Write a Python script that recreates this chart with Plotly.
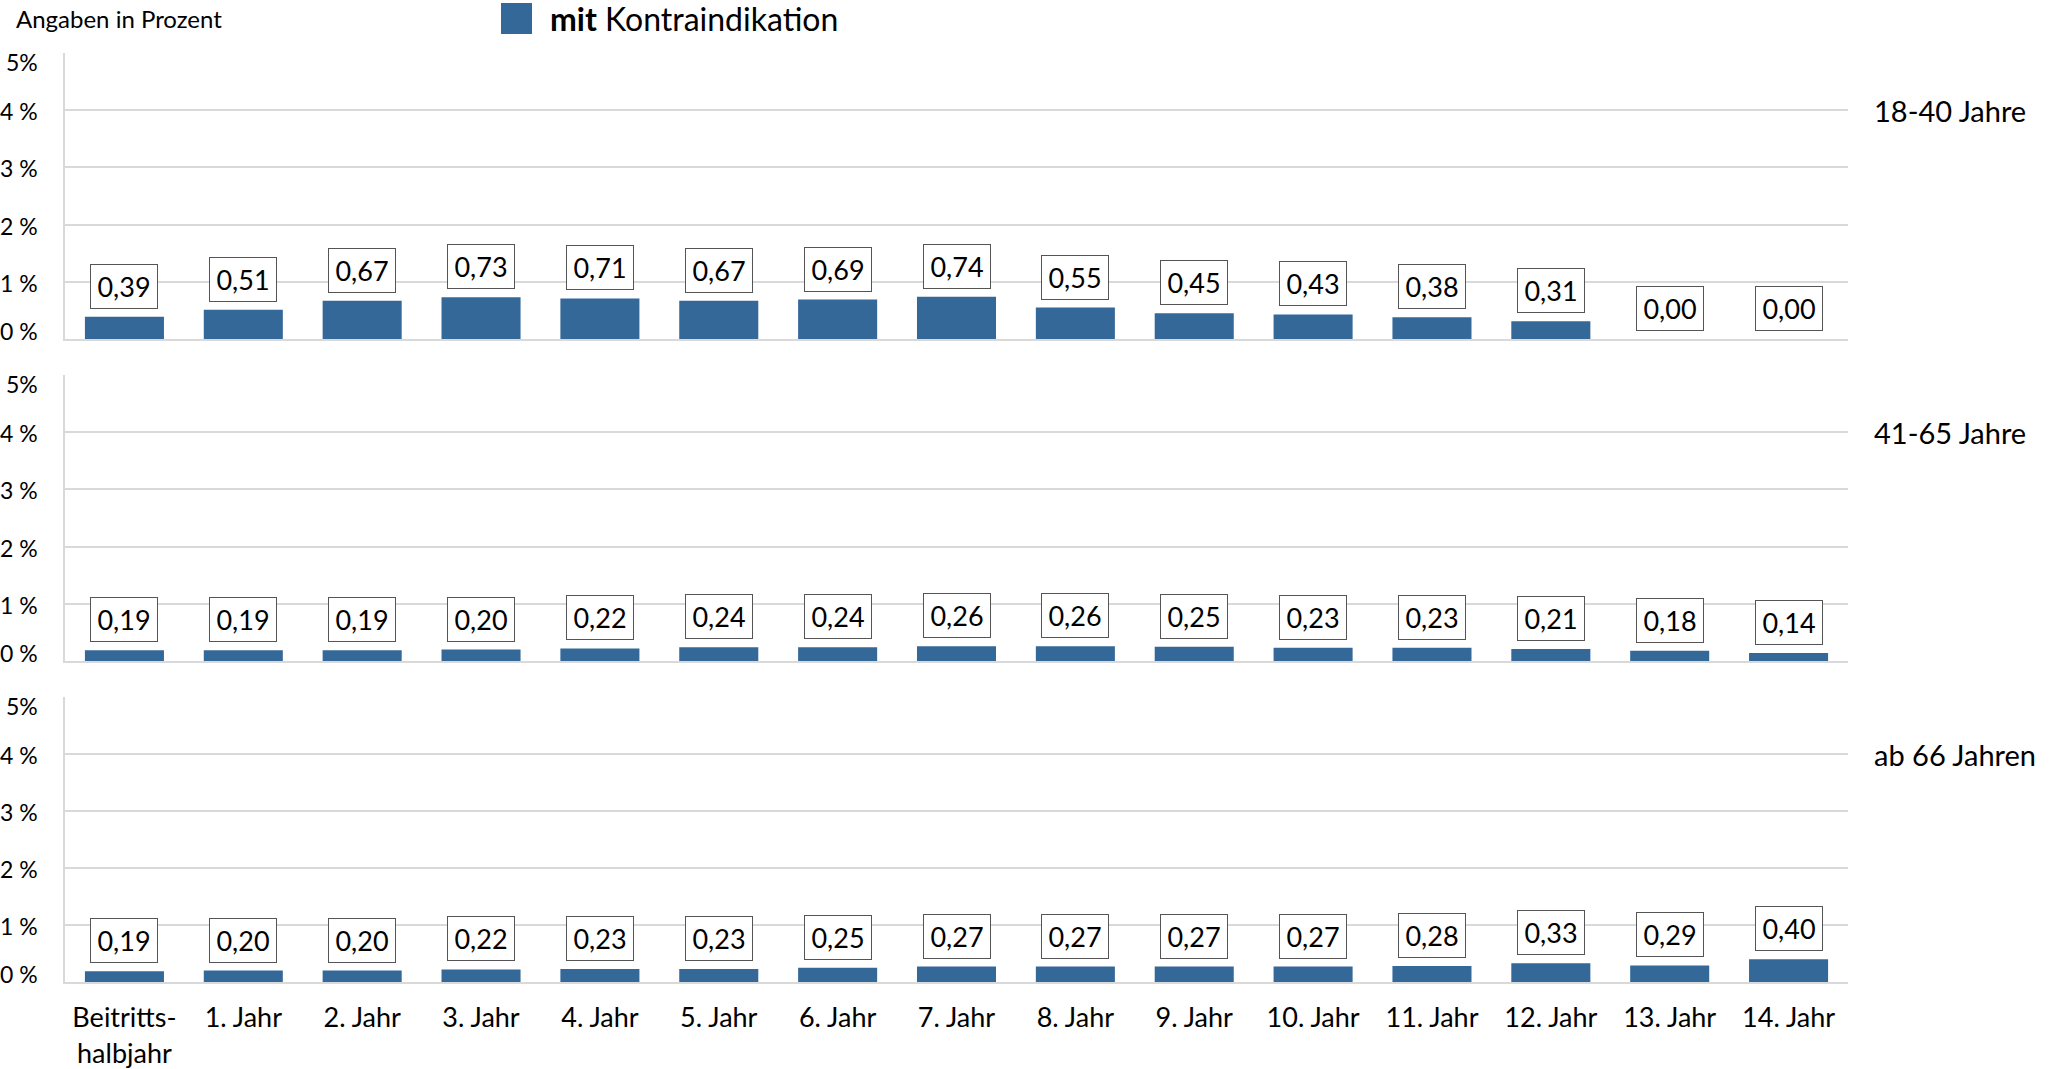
import plotly.graph_objects as go
from plotly.subplots import make_subplots

# ---- data ----
categories = ["Beitritts-<br>halbjahr", "1. Jahr", "2. Jahr", "3. Jahr", "4. Jahr", "5. Jahr",
              "6. Jahr", "7. Jahr", "8. Jahr", "9. Jahr", "10. Jahr", "11. Jahr",
              "12. Jahr", "13. Jahr", "14. Jahr"]
panel_titles = ["18-40 Jahre", "41-65 Jahre", "ab 66 Jahren"]
werte_18_40 = [0.39, 0.51, 0.67, 0.73, 0.71, 0.67, 0.69, 0.74, 0.55, 0.45, 0.43, 0.38, 0.31, 0.00, 0.00]
werte_41_65 = [0.19, 0.19, 0.19, 0.20, 0.22, 0.24, 0.24, 0.26, 0.26, 0.25, 0.23, 0.23, 0.21, 0.18, 0.14]
werte_ab_66 = [0.19, 0.20, 0.20, 0.22, 0.23, 0.23, 0.25, 0.27, 0.27, 0.27, 0.27, 0.28, 0.33, 0.29, 0.40]
y_tickvals = [0, 1, 2, 3, 4, 5]
y_ticktext = ["0 %", "1 %", "2 %", "3 %", "4 %", "5%"]
legend_label = "<b>mit</b> Kontraindikation"
unit_note = "Angaben in Prozent"

series = [werte_18_40, werte_41_65, werte_ab_66]

# ---- styling ----
W, H = 2062, 1069
L, R, T, B = 65, 1848, 53, 982          # plot area in pixels
FONT = "Lato, Carlito, Open Sans, sans-serif"
BAR = "#346899"
GRID = "#d9d9d9"


def px_x(p):
    return (p - L) / (R - L)


def px_y(p):
    return (B - p) / (B - T)


domains = [(px_y(339), 1.0), (px_y(661), px_y(375)), (0.0, px_y(697))]

fig = make_subplots(rows=3, cols=1, shared_xaxes=True, vertical_spacing=0.03)

for i, vals in enumerate(series):
    row = i + 1
    fig.add_trace(
        go.Bar(
            x=categories, y=vals, marker=dict(color=BAR, line=dict(width=0)),
            showlegend=False, hoverinfo="skip",
        ),
        row=row, col=1,
    )
    yref = "y" if row == 1 else f"y{row}"
    # value boxes above the bars
    for c, v in zip(categories, vals):
        fig.add_annotation(
            x=c, y=v, xref="x" if row == 1 else f"x{row}", yref=yref,
            text=f"{v:.2f}".replace(".", ","), showarrow=False,
            yanchor="bottom", yshift=8,
            font=dict(family=FONT, size=27, color="#000"),
            bgcolor="white", bordercolor="#555", borderwidth=1, borderpad=5,
            width=56, height=33,
        )
    # y tick labels
    for tv, tt in zip(y_tickvals, y_ticktext):
        shift = 8 if tv == 0 else (-9 if tv == 5 else -1)
        fig.add_annotation(
            x=0, xref="paper", y=tv, yref=yref, text=tt, showarrow=False,
            xanchor="right", xshift=-25, yshift=shift,
            font=dict(family=FONT, size=23, color="#000"),
        )
    # panel label on the right
    fig.add_annotation(
        x=1, xref="paper", y=4, yref=yref, text=panel_titles[i], showarrow=False,
        xanchor="left", xshift=24, font=dict(family=FONT, size=29, color="#000"),
    )
    ax_name = "yaxis" if row == 1 else f"yaxis{row}"
    fig.layout[ax_name].update(
        domain=list(domains[i]), range=[0, 5], tickvals=y_tickvals, showticklabels=False,
        showgrid=True, gridcolor=GRID, gridwidth=2, zeroline=False, automargin=False,
        showline=True, linecolor=GRID, linewidth=2, fixedrange=True,
    )
    xname = "xaxis" if row == 1 else f"xaxis{row}"
    fig.layout[xname].update(
        showline=True, linecolor=GRID, linewidth=2, showgrid=False, zeroline=False,
        ticks="", tickfont=dict(family=FONT, size=27, color="#000"),
        showticklabels=(row == 3), automargin=False,
    )

fig.update_layout(bargap=0.335)
fig.layout.xaxis3.update(ticklabelstandoff=11)

# unit note and legend
fig.add_annotation(
    x=0, xref="paper", y=1, yref="paper", text=unit_note, showarrow=False,
    xanchor="left", xshift=14 - L, yanchor="middle", yshift=T - 18,
    font=dict(family=FONT, size=24, color="#000"),
)
fig.add_shape(
    type="rect", xref="paper", yref="paper",
    x0=px_x(501), x1=px_x(532), y0=px_y(34), y1=px_y(3),
    fillcolor=BAR, line=dict(width=0),
)
fig.add_annotation(
    x=px_x(548), xref="paper", y=px_y(18), yref="paper", text=legend_label, showarrow=False,
    xanchor="left", yanchor="middle", font=dict(family=FONT, size=32, color="#000"),
)

fig.update_layout(
    width=W, height=H,
    margin=dict(l=L, r=W - R, t=T, b=H - B, autoexpand=False),
    paper_bgcolor="white", plot_bgcolor="white",
    font=dict(family=FONT, color="#000"),
)

fig.write_html("out.html")
